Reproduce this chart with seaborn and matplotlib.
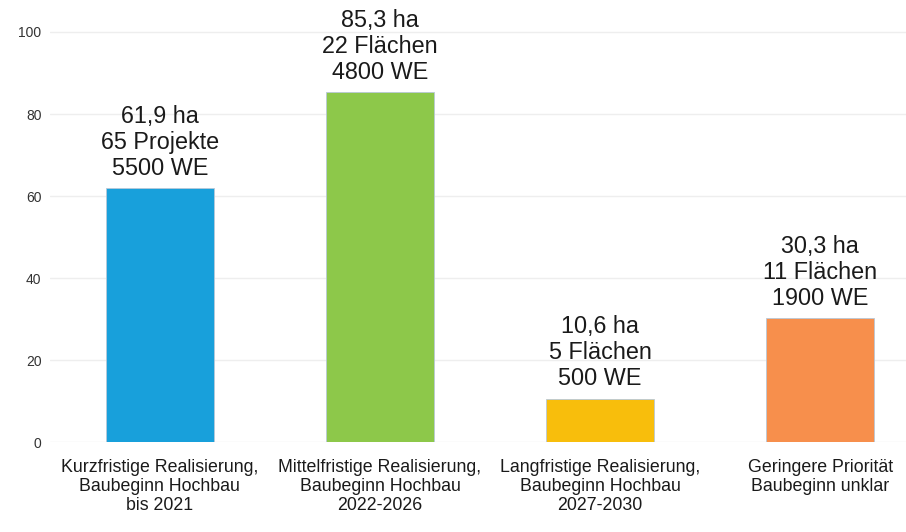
import pandas as pd
import seaborn as sns
import matplotlib.pyplot as plt

# chart values
categories = [
    "Kurzfristige Realisierung,\nBaubeginn Hochbau\nbis 2021",
    "Mittelfristige Realisierung,\nBaubeginn Hochbau\n2022-2026",
    "Langfristige Realisierung,\nBaubeginn Hochbau\n2027-2030",
    "Geringere Priorität\nBaubeginn unklar",
]
hectares = [61.9, 85.3, 10.6, 30.3]
bar_labels = [
    "61,9 ha\n65 Projekte\n5500 WE",
    "85,3 ha\n22 Flächen\n4800 WE",
    "10,6 ha\n5 Flächen\n500 WE",
    "30,3 ha\n11 Flächen\n1900 WE",
]
colors = ["#18A0DB", "#8DC84A", "#F8BE0C", "#F78F4C"]

df = pd.DataFrame({"Kategorie": categories, "Fläche": hectares})

sns.set_style("white")
plt.rcParams["font.family"] = ["Liberation Sans", "DejaVu Sans"]

fig = plt.figure(figsize=(9.06, 5.32), dpi=100)
ax = fig.add_axes([0.055, 0.169, 0.945, 0.831])

sns.barplot(data=df, x="Kategorie", y="Fläche", hue="Kategorie", palette=colors,
            saturation=1, width=0.49, legend=False, ax=ax,
            edgecolor="#B8C8D8", linewidth=0.6)

for i, (v, lab) in enumerate(zip(hectares, bar_labels)):
    ax.text(i, v + 2.0, lab, ha="center", va="bottom", fontsize=16.8,
            color="#1a1a1a", linespacing=1.17)

ax.set_ylim(0, 107.8)
ax.set_xlim(-0.5, 3.39)
ax.set_yticks([0, 20, 40, 60, 80, 100])
ax.yaxis.grid(True, color="#EEEEEE", linewidth=1)
ax.set_axisbelow(True)
ax.tick_params(axis="y", labelsize=10, colors="#333333", length=0, pad=6)
ax.tick_params(axis="x", labelsize=12.8, colors="#1a1a1a", length=0, pad=12)
for lbl in ax.get_xticklabels():
    lbl.set_linespacing(1.18)
ax.set_xlabel("")
ax.set_ylabel("")
for s in ax.spines.values():
    s.set_visible(False)

fig.savefig("out.png", dpi=100)
